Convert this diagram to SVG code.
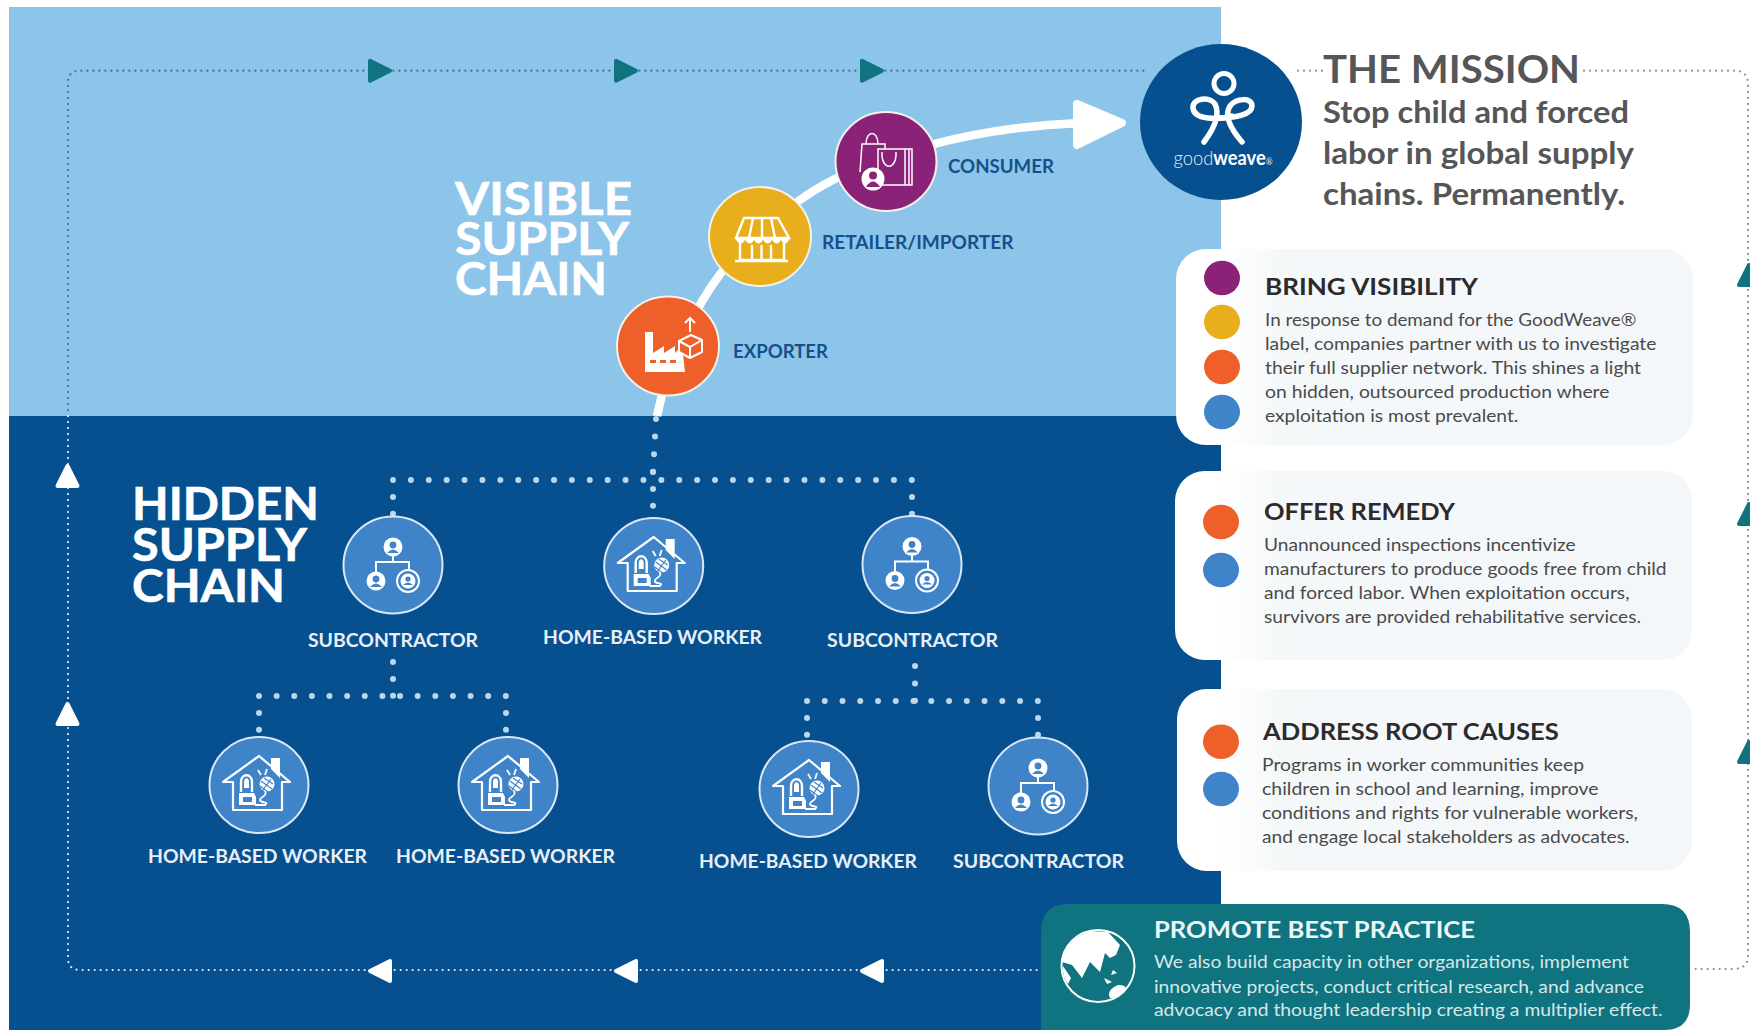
<svg xmlns="http://www.w3.org/2000/svg" xmlns:xlink="http://www.w3.org/1999/xlink" width="1750" height="1030" viewBox="0 0 1750 1030">
<style>
text{font-family:"Lato","Open Sans","Liberation Sans",sans-serif}
.bigw{fill:#fff;font-size:46px;font-weight:700;stroke:#fff;stroke-width:.6px}
.lab{fill:#14508a;font-size:18.6px;font-weight:700}
.labw{fill:#e8eff6;font-size:18.6px;font-weight:700}
.mt{fill:#565656;font-size:39px;font-weight:700}
.ms{fill:#565656;font-size:29.5px;font-weight:700}
.ct{fill:#2b2b2b;font-size:23.5px;font-weight:700}
.cb{fill:#4a4a4a;font-size:17.7px}
.tt{fill:#eef5f6;font-size:23.5px;font-weight:700}
.tb{fill:#d6e7e9;font-size:17.7px}
.tiny{fill:none;stroke:#fff;stroke-width:2}
.dots{fill:none;stroke:#bcd6ec;stroke-width:6;stroke-linecap:round;stroke-dasharray:0 1}
.bd{fill:none;stroke-width:2.2;stroke-linecap:round;stroke-dasharray:0 6}
.tri{stroke-width:4;stroke-linejoin:round}
.hid{fill:#3f83c9;stroke:#dbe8f4;stroke-width:2}
.vis{stroke:#f2f2ea;stroke-width:2}
</style>
<defs>
<linearGradient id="cardfill" x1="0" x2="1" y1="0" y2="0"><stop offset="0.08" stop-color="#ffffff"/><stop offset="0.2" stop-color="#f5f8f9"/><stop offset="1" stop-color="#f4f7f9"/></linearGradient>
<path id="tri" d="M-10 -10L10 0L-10 10Z"/>
<g id="subIcon">
<path class="tiny" d="M0 -9V-3M-17 7V-3H16V6"/>
<circle cx="0" cy="-18" r="9.5" fill="#fff"/>
<circle cx="-17" cy="16" r="9.5" fill="#fff"/>
<circle cx="15" cy="16" r="11" fill="none" stroke="#fff" stroke-width="2"/>
<circle cx="15" cy="16" r="7.5" fill="#fff"/>
<g fill="#3f83c9">
<circle cx="0" cy="-20" r="3.4"/><path d="M-6 -12Q0 -19 6 -12Z"/>
<circle cx="-17" cy="14" r="3.4"/><path d="M-23 22Q-17 15 -11 22Z"/>
<circle cx="15" cy="14" r="2.6"/><path d="M10 20Q15 15 20 20Z"/>
</g>
</g>
<g id="homeIcon">
<path fill="#fff" d="M12 -27H21V-7L12 -16Z"/>
<path fill="none" stroke="#fff" stroke-width="2.2" stroke-linejoin="round" d="M-36 -3L0 -29L31 -3H23V25H-26V-3Z"/>
<path fill="none" stroke="#fff" stroke-width="2.4" d="M-18 7V-3C-18 -12 -7 -12 -7 -3V7"/>
<path fill="#fff" d="M-15 -3C-15 -8 -10 -8 -10 -3V3H-15Z"/>
<path fill="#fff" d="M-20 8H-5L-3 12V20H-20Z"/>
<rect x="-16" y="12" width="9" height="5" fill="#3f83c9"/>
<circle cx="8" cy="-1" r="7.500" fill="#fff"/>
<path fill="none" stroke="#3f83c9" stroke-width="1.200" d="M2 -4L13 4M5 -7L14 -1M1 1L9 7M4 5L12 -6"/>
<path fill="none" stroke="#fff" stroke-width="1.800" d="M2 -10L-1 -15M6 -10L8 -16M6 6C9 12 1 11 1 15C2 19 11 16 6 20H-4"/>
</g>
</defs>

<rect width="1750" height="1030" fill="#fff"/>
<g id="panels">
<rect x="9" y="7" width="1212" height="409" fill="#8dc4ea"/>
<rect x="9" y="416" width="1212" height="614" fill="#07508f"/>
</g>

<g id="connectors">
<path class="bd" stroke="#3c6f8f" d="M68 416V83Q68 70.700 80 70.700H1145"/>
<path class="bd" stroke="#e8f0f6" d="M68 416V958Q68 970 80 970H1045"/>
<path class="bd" stroke="#8c8c8c" d="M1298 70.700H1323M1584 70.700H1735Q1747 70.700 1748 83V956Q1748 968 1735 969H1692"/>
<path fill="none" stroke="#fff" stroke-width="8.500" d="M657 416C668 360 698 303 721 273C748 238 800 195 839 177C900 150 980 127 1080 123"/>
<path fill="#fff" stroke="#fff" stroke-width="8" stroke-linejoin="round" d="M1077 104L1122 123L1077 145Z"/>
<path class="dots" pathLength="3.010" d="M656 419L653 472"/>
<path class="dots" pathLength="2.010" d="M653 472V506"/>
<path class="dots" pathLength="29.010" d="M393 480H912"/>
<path class="dots" pathLength="1.010" d="M393 497V514"/>
<path class="dots" pathLength="1.010" d="M912 497V514"/>
<path class="dots" pathLength="2.010" d="M393 662V696"/>
<path class="dots" pathLength="14.010" d="M259 696H506"/>
<path class="dots" pathLength="1.010" d="M259 713V730"/>
<path class="dots" pathLength="1.010" d="M506 713V730"/>
<path class="dots" pathLength="2.010" d="M915 666V701"/>
<path class="dots" pathLength="13.010" d="M807 701H1038"/>
<path class="dots" pathLength="1.010" d="M807 718V735"/>
<path class="dots" pathLength="1.010" d="M1038 718V735"/>
<g fill="#0f7480" stroke="#0f7480" class="tri">
<use href="#tri" transform="translate(380 70.700)"/>
<use href="#tri" transform="translate(626 70.700)"/>
<use href="#tri" transform="translate(872 70.700)"/>
<use href="#tri" transform="translate(1749 275) rotate(-90)"/>
<use href="#tri" transform="translate(1749 514) rotate(-90)"/>
<use href="#tri" transform="translate(1749 752) rotate(-90)"/>
</g>
<g fill="#fff" stroke="#fff" class="tri">
<use href="#tri" transform="translate(380 971) rotate(180)"/>
<use href="#tri" transform="translate(626 971) rotate(180)"/>
<use href="#tri" transform="translate(872 971) rotate(180)"/>
<use href="#tri" transform="translate(67.500 476) rotate(-90)"/>
<use href="#tri" transform="translate(67.500 714) rotate(-90)"/>
</g>
</g>

<g id="visible-title">
<text class="bigw" x="455" y="215" textLength="177" lengthAdjust="spacingAndGlyphs">VISIBLE</text>
<text class="bigw" x="455" y="255" textLength="174" lengthAdjust="spacingAndGlyphs">SUPPLY</text>
<text class="bigw" x="455" y="295" textLength="152" lengthAdjust="spacingAndGlyphs">CHAIN</text>
</g>
<g id="hidden-title">
<text class="bigw" x="132" y="520" textLength="187" lengthAdjust="spacingAndGlyphs">HIDDEN</text>
<text class="bigw" x="132" y="561" textLength="175" lengthAdjust="spacingAndGlyphs">SUPPLY</text>
<text class="bigw" x="132" y="602" textLength="153" lengthAdjust="spacingAndGlyphs">CHAIN</text>
</g>

<g id="node-exporter">
<ellipse class="vis" cx="668" cy="346" rx="51" ry="49.500" fill="#ee5f2a"/>
<path fill="#fff" d="M645 332H653V353L664 346V353L675 346V353L682 346L685 372H645Z"/>
<g fill="#ee5f2a"><rect x="650" y="360" width="6" height="3"/><rect x="660" y="360" width="6" height="3"/><rect x="670" y="360" width="6" height="3"/></g>
<path fill="#ee5f2a" stroke="#fff" stroke-width="2" stroke-linejoin="round" d="M679 341L691 335L702 340V352L690 358L679 352ZM679 341L690 347L702 340M690 347V358"/>
<path fill="none" stroke="#fff" stroke-width="2" d="M690 332V318M685 323L690 318L695 323"/>
<text class="lab" x="733" y="358" textLength="95" lengthAdjust="spacingAndGlyphs">EXPORTER</text>
</g>
<g id="node-retailer">
<ellipse class="vis" cx="760" cy="236.500" rx="51" ry="49.500" fill="#e9ae1c"/>
<path fill="none" stroke="#fff" stroke-width="2.400" d="M744 218H778L789 238H736ZM753 218L749 238M762 218V238M771 218L775 238M740 240V260H784V240M735 261H788M752 245V260H771V245M761.500 245V260"/>
<path fill="#fff" d="M736 237H789V240Q785 247 781 240Q777 247 772 240Q768 247 763 240Q759 247 754 240Q750 247 745 240Q741 247 736 240Z"/>
<text class="lab" x="822" y="249" textLength="191.500" lengthAdjust="spacingAndGlyphs">RETAILER/IMPORTER</text>
</g>
<g id="node-consumer">
<ellipse class="vis" cx="886" cy="161.500" rx="50.500" ry="49.500" fill="#8a2378"/>
<path fill="none" stroke="#fff" stroke-width="1.500" d="M860 172L862 144H885V149M866 144C866 130 878 130 878 144"/>
<path fill="#8a2378" stroke="#fff" stroke-width="1.500" d="M878 149H912V185H878Z"/>
<path fill="none" stroke="#fff" stroke-width="1.500" d="M905 149V185M909 149V185M882 152C881 171 897 171 896 152"/>
<circle cx="873" cy="179" r="11.500" fill="#fff"/>
<circle cx="873" cy="175.500" r="4" fill="#8a2378"/>
<path fill="#8a2378" d="M866 187Q873 176 880 187Z"/>
<text class="lab" x="948" y="173" textLength="106" lengthAdjust="spacingAndGlyphs">CONSUMER</text>
</g>

<g id="node-sub-1"><ellipse class="hid" cx="393" cy="565" rx="49.500" ry="48.500"/><use href="#subIcon" transform="translate(393 565)"/><text class="labw" x="308" y="646.700" textLength="170" lengthAdjust="spacingAndGlyphs">SUBCONTRACTOR</text></g>
<g id="node-home-1"><ellipse class="hid" cx="653.700" cy="566" rx="49.500" ry="48"/><use href="#homeIcon" transform="translate(653.700 566)"/><text class="labw" x="543" y="644" textLength="219" lengthAdjust="spacingAndGlyphs">HOME-BASED WORKER</text></g>
<g id="node-sub-2"><ellipse class="hid" cx="912" cy="564.500" rx="49.500" ry="48.500"/><use href="#subIcon" transform="translate(912 564.500)"/><text class="labw" x="827" y="647" textLength="171" lengthAdjust="spacingAndGlyphs">SUBCONTRACTOR</text></g>
<g id="node-home-2"><ellipse class="hid" cx="259" cy="785" rx="49.500" ry="48"/><use href="#homeIcon" transform="translate(259 785)"/><text class="labw" x="148" y="863" textLength="219" lengthAdjust="spacingAndGlyphs">HOME-BASED WORKER</text></g>
<g id="node-home-3"><ellipse class="hid" cx="508" cy="785" rx="49.500" ry="48"/><use href="#homeIcon" transform="translate(508 785)"/><text class="labw" x="396" y="863" textLength="219" lengthAdjust="spacingAndGlyphs">HOME-BASED WORKER</text></g>
<g id="node-home-4"><ellipse class="hid" cx="809" cy="789" rx="49.500" ry="48"/><use href="#homeIcon" transform="translate(809 789)"/><text class="labw" x="699" y="868" textLength="218" lengthAdjust="spacingAndGlyphs">HOME-BASED WORKER</text></g>
<g id="node-sub-3"><ellipse class="hid" cx="1038" cy="786" rx="49.500" ry="48.500"/><use href="#subIcon" transform="translate(1038 786)"/><text class="labw" x="953" y="868" textLength="171" lengthAdjust="spacingAndGlyphs">SUBCONTRACTOR</text></g>

<g id="node-goodweave">
<ellipse cx="1221" cy="122" rx="81" ry="78" fill="#07508f"/>
<circle cx="1224" cy="83.500" r="10" fill="none" stroke="#fff" stroke-width="5"/>
<g fill="none" stroke="#fff" stroke-width="5.500" stroke-linecap="round">
<path d="M1232 116C1218 120 1194 120 1193 108C1192 98 1210 96 1215 104C1220 114 1216 126 1204 142"/>
<path d="M1218 118C1234 118 1252 115 1252 106C1252 97 1236 98 1230 106C1224 115 1230 128 1242 142"/>
</g>
<text x="1173.600" y="165" font-size="20" fill="#e8eff6" textLength="99" lengthAdjust="spacingAndGlyphs"><tspan font-weight="300">good</tspan><tspan font-weight="700" fill="#fff">weave</tspan><tspan font-size="9">®</tspan></text>
</g>

<g id="mission">
<text class="mt" x="1323" y="83" textLength="257" lengthAdjust="spacingAndGlyphs">THE MISSION</text>
<text class="ms" x="1323" y="123" textLength="306" lengthAdjust="spacingAndGlyphs">Stop child and forced</text>
<text class="ms" x="1323" y="164" textLength="311" lengthAdjust="spacingAndGlyphs">labor in global supply</text>
<text class="ms" x="1323" y="205" textLength="302" lengthAdjust="spacingAndGlyphs">chains. Permanently.</text>
</g>

<g id="node-bring-visibility">
<rect x="1176" y="249" width="517" height="196" rx="30" fill="url(#cardfill)"/>
<ellipse cx="1222" cy="278" rx="18" ry="17.300" fill="#8a2378"/>
<ellipse cx="1222" cy="322" rx="18" ry="17.300" fill="#e9ae1c"/>
<ellipse cx="1222" cy="367" rx="18" ry="17.300" fill="#ee5f2a"/>
<ellipse cx="1222" cy="412" rx="18" ry="17.300" fill="#3f83c9"/>
<text class="ct" x="1265" y="295" textLength="213" lengthAdjust="spacingAndGlyphs">BRING VISIBILITY</text>
<text class="cb" x="1265" y="326" textLength="371.400" lengthAdjust="spacingAndGlyphs">In response to demand for the GoodWeave®</text>
<text class="cb" x="1265" y="350" textLength="391.400" lengthAdjust="spacingAndGlyphs">label, companies partner with us to investigate</text>
<text class="cb" x="1265" y="374" textLength="376" lengthAdjust="spacingAndGlyphs">their full supplier network. This shines a light</text>
<text class="cb" x="1265" y="398" textLength="344.400" lengthAdjust="spacingAndGlyphs">on hidden, outsourced production where</text>
<text class="cb" x="1265" y="422" textLength="253.400" lengthAdjust="spacingAndGlyphs">exploitation is most prevalent.</text>
</g>

<g id="node-offer-remedy">
<rect x="1175" y="471" width="517" height="189" rx="30" fill="url(#cardfill)"/>
<ellipse cx="1221" cy="522" rx="18" ry="17.300" fill="#ee5f2a"/>
<ellipse cx="1221" cy="570" rx="18" ry="17.300" fill="#3f83c9"/>
<text class="ct" x="1264" y="520" textLength="191" lengthAdjust="spacingAndGlyphs">OFFER REMEDY</text>
<text class="cb" x="1264" y="551" textLength="311.600" lengthAdjust="spacingAndGlyphs">Unannounced inspections incentivize</text>
<text class="cb" x="1264" y="575" textLength="402.600" lengthAdjust="spacingAndGlyphs">manufacturers to produce goods free from child</text>
<text class="cb" x="1264" y="599.300" textLength="365.500" lengthAdjust="spacingAndGlyphs">and forced labor. When exploitation occurs,</text>
<text class="cb" x="1264" y="623" textLength="377" lengthAdjust="spacingAndGlyphs">survivors are provided rehabilitative services.</text>
</g>

<g id="node-address-root-causes">
<rect x="1177" y="689" width="515" height="182" rx="30" fill="url(#cardfill)"/>
<ellipse cx="1221" cy="741.700" rx="18" ry="17.300" fill="#ee5f2a"/>
<ellipse cx="1221" cy="789" rx="18" ry="17.300" fill="#3f83c9"/>
<text class="ct" x="1263" y="740" textLength="295.700" lengthAdjust="spacingAndGlyphs">ADDRESS ROOT CAUSES</text>
<text class="cb" x="1262" y="770.700" textLength="322" lengthAdjust="spacingAndGlyphs">Programs in worker communities keep</text>
<text class="cb" x="1262" y="795" textLength="336.500" lengthAdjust="spacingAndGlyphs">children in school and learning, improve</text>
<text class="cb" x="1262" y="819" textLength="376" lengthAdjust="spacingAndGlyphs">conditions and rights for vulnerable workers,</text>
<text class="cb" x="1262" y="843" textLength="367.500" lengthAdjust="spacingAndGlyphs">and engage local stakeholders as advocates.</text>
</g>

<g id="node-promote-best-practice">
<path fill="#0f7480" d="M1041 1030V932Q1041 904 1069 904H1662Q1690 904 1690 932V1004Q1690 1030 1664 1030Z"/>
<ellipse cx="1098" cy="966" rx="36.500" ry="36" fill="none" stroke="#fff" stroke-width="2"/>
<path fill="#fff" d="M1063 955Q1070 938 1090 931L1108 932L1120 945L1116 955L1110 958L1105 953L1100 972L1090 962L1082 978L1072 965L1062 962Z"/>
<path fill="#fff" d="M1113 970L1117 973L1111 975ZM1104 978L1112 982L1107 984ZM1118 985Q1128 985 1125 990Q1118 999 1110 998Q1106 990 1118 985ZM1063 966L1071 978L1068 984Q1062 976 1063 966Z"/>
<text class="tt" x="1154" y="938" textLength="321" lengthAdjust="spacingAndGlyphs">PROMOTE BEST PRACTICE</text>
<text class="tb" x="1154" y="968" textLength="475" lengthAdjust="spacingAndGlyphs">We also build capacity in other organizations, implement</text>
<text class="tb" x="1154" y="992.700" textLength="490" lengthAdjust="spacingAndGlyphs">innovative projects, conduct critical research, and advance</text>
<text class="tb" x="1154" y="1016" textLength="508.500" lengthAdjust="spacingAndGlyphs">advocacy and thought leadership creating a multiplier effect.</text>
</g>
</svg>
